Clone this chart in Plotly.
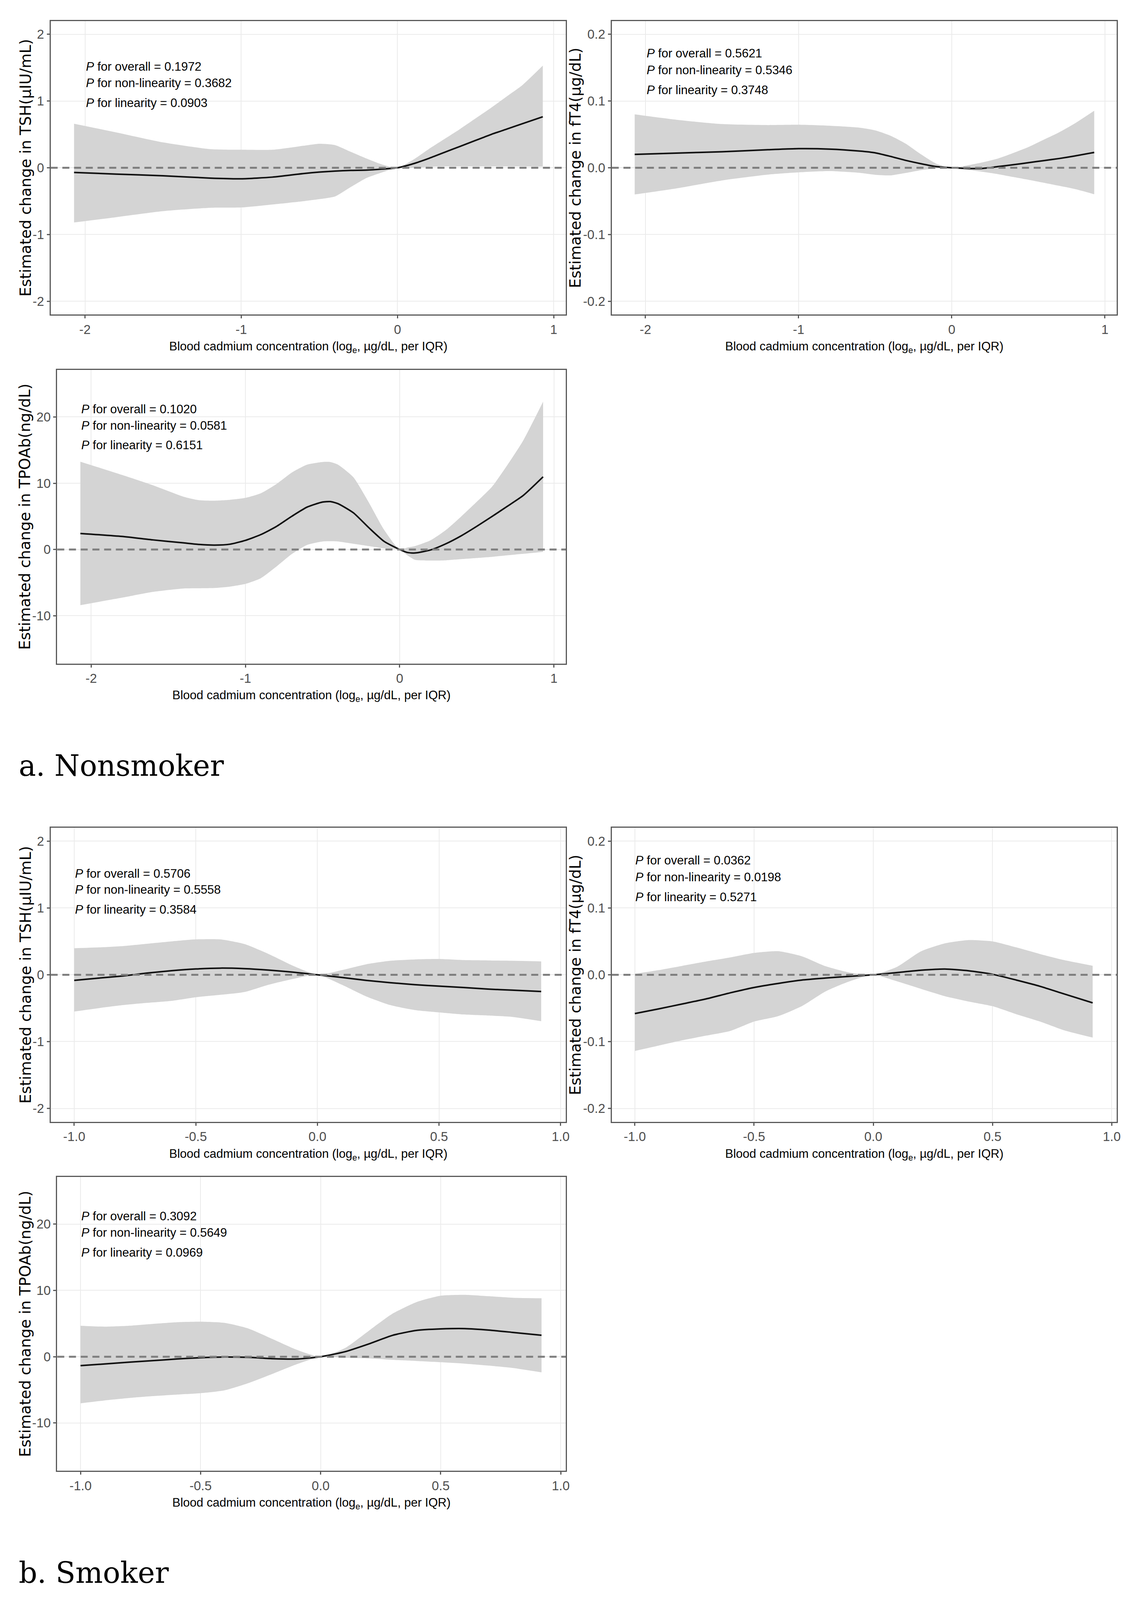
import plotly.graph_objects as go

# ---------------- data ----------------
X_NONSMOKER = [-2.07, -1.8, -1.5, -1.2, -1.0, -0.8, -0.6, -0.5, -0.4, -0.3, -0.2, -0.1,
               0.0, 0.1, 0.2, 0.3, 0.4, 0.5, 0.6, 0.7, 0.8, 0.93]
X_NONSMOKER_TPO = [-2.07, -1.8, -1.6, -1.4, -1.3, -1.2, -1.1, -1.0, -0.9, -0.8, -0.7, -0.6,
                   -0.5, -0.45, -0.4, -0.3, -0.2, -0.1, 0.0, 0.05, 0.1, 0.2, 0.3, 0.4, 0.5,
                   0.6, 0.7, 0.8, 0.93]
X_SMOKER = [-1.0, -0.9, -0.8, -0.7, -0.6, -0.5, -0.4, -0.3, -0.2, -0.1, 0.0, 0.1, 0.2,
            0.3, 0.4, 0.5, 0.6, 0.7, 0.8, 0.92]

TSH_NS_FIT = [-0.07, -0.095, -0.12, -0.155, -0.165, -0.14, -0.086, -0.065, -0.05, -0.04,
              -0.035, -0.02, 0.0, 0.06, 0.14, 0.23, 0.32, 0.41, 0.50, 0.58, 0.66, 0.765]
TSH_NS_UPPER = [0.66, 0.53, 0.38, 0.28, 0.27, 0.27, 0.33, 0.36, 0.34, 0.24, 0.14, 0.05,
                0.0, 0.12, 0.28, 0.43, 0.58, 0.74, 0.90, 1.07, 1.24, 1.53]
TSH_NS_LOWER = [-0.82, -0.74, -0.65, -0.60, -0.595, -0.55, -0.50, -0.47, -0.43, -0.29,
                -0.155, -0.07, 0.0, 0.0, 0.015, 0.02, 0.02, 0.02, 0.02, 0.02, 0.02, 0.017]

FT4_NS_FIT = [0.020, 0.022, 0.024, 0.027, 0.0286, 0.028, 0.025, 0.0224, 0.017, 0.011,
              0.006, 0.0017, 0.0, -0.001, -0.001, 0.0017, 0.0045, 0.0076, 0.0107, 0.0138,
              0.0175, 0.023]
FT4_NS_UPPER = [0.080, 0.072, 0.0655, 0.064, 0.0645, 0.063, 0.060, 0.056, 0.048, 0.036,
                0.020, 0.006, 0.0, 0.0035, 0.008, 0.0138, 0.022, 0.031, 0.042, 0.053,
                0.066, 0.0855]
FT4_NS_LOWER = [-0.040, -0.031, -0.019, -0.0103, -0.0069, -0.005, -0.0076, -0.0105,
                -0.0114, -0.0078, -0.0035, -0.001, 0.0, -0.003, -0.006, -0.0095, -0.0138,
                -0.018, -0.0224, -0.027, -0.0317, -0.0397]

TPO_NS_FIT = [2.42, 1.97, 1.45, 1.0, 0.76, 0.66, 0.8, 1.38, 2.25, 3.46, 5.0, 6.4, 7.16,
              7.23, 6.92, 5.54, 3.29, 1.21, 0.0, -0.45, -0.52, -0.07, 0.87, 2.08, 3.5, 5.0,
              6.55, 8.13, 10.97]
TPO_NS_UPPER = [13.25, 11.25, 9.69, 7.96, 7.44, 7.37, 7.5, 7.79, 8.48, 9.86, 11.6, 12.8,
                13.2, 13.2, 12.8, 10.9, 7.1, 2.94, 0.0, 0.3, 0.52, 1.38, 2.94, 5.0, 7.2,
                9.5, 12.8, 16.4, 22.3]
TPO_NS_LOWER = [-8.4, -7.27, -6.4, -5.88, -5.85, -5.81, -5.6, -5.19, -4.33, -2.6, -0.7,
                0.69, 1.21, 1.25, 1.21, 0.87, 0.52, 0.17, 0.0, -0.87, -1.56, -1.66, -1.63,
                -1.45, -1.28, -1.1, -0.87, -0.65, -0.35]

TSH_S_FIT = [-0.083, -0.05, -0.017, 0.026, 0.061, 0.087, 0.10, 0.092, 0.07, 0.039, 0.0,
             -0.039, -0.083, -0.118, -0.148, -0.17, -0.19, -0.214, -0.23, -0.25]
TSH_S_UPPER = [0.397, 0.41, 0.43, 0.465, 0.50, 0.53, 0.53, 0.46, 0.31, 0.135, 0.0, 0.07,
               0.157, 0.21, 0.23, 0.236, 0.22, 0.215, 0.21, 0.20]
TSH_S_LOWER = [-0.55, -0.50, -0.454, -0.42, -0.39, -0.336, -0.30, -0.258, -0.148, -0.061,
               0.0, -0.148, -0.323, -0.454, -0.528, -0.563, -0.594, -0.61, -0.63, -0.694]

FT4_S_FIT = [-0.058, -0.051, -0.0436, -0.036, -0.027, -0.019, -0.013, -0.0079, -0.0049,
             -0.0023, 0.0, 0.0034, 0.0068, 0.0086, 0.006, 0.0008, -0.0079, -0.0173,
             -0.0286, -0.042]
FT4_S_UPPER = [0.0015, 0.007, 0.0135, 0.020, 0.026, 0.0327, 0.0353, 0.0278, 0.0128,
               0.0034, 0.0, 0.012, 0.035, 0.047, 0.052, 0.050, 0.041, 0.031, 0.022, 0.0135]
FT4_S_LOWER = [-0.114, -0.106, -0.098, -0.091, -0.084, -0.070, -0.062, -0.047, -0.0248,
               -0.0098, 0.0, -0.0098, -0.021, -0.032, -0.040, -0.047, -0.059, -0.070,
               -0.083, -0.094]

TPO_S_FIT = [-1.35, -1.1, -0.83, -0.6, -0.35, -0.15, -0.05, -0.1, -0.3, -0.35, 0.0, 0.74,
             1.92, 3.23, 3.97, 4.19, 4.24, 4.02, 3.67, 3.23]
TPO_S_UPPER = [4.67, 4.54, 4.67, 4.95, 5.2, 5.28, 5.1, 4.24, 2.66, 1.05, 0.0, 1.27, 3.89,
               6.5, 8.25, 9.2, 9.34, 9.13, 8.9, 8.82]
TPO_S_LOWER = [-7.03, -6.6, -6.24, -5.95, -5.72, -5.5, -5.07, -3.97, -2.58, -1.14, 0.0,
               -0.17, -0.26, -0.48, -0.65, -0.83, -1.05, -1.35, -1.7, -2.36]

# tick labels
XTICKS_NS = [-2, -1, 0, 1]
XTICKTEXT_NS = ["-2", "-1", "0", "1"]
XTICKS_S = [-1.0, -0.5, 0.0, 0.5, 1.0]
XTICKTEXT_S = ["-1.0", "-0.5", "0.0", "0.5", "1.0"]
YTICKS_TSH = [-2, -1, 0, 1, 2]
YTICKTEXT_TSH = ["-2", "-1", "0", "1", "2"]
YTICKS_FT4 = [-0.2, -0.1, 0.0, 0.1, 0.2]
YTICKTEXT_FT4 = ["-0.2", "-0.1", "0.0", "0.1", "0.2"]
YTICKS_TPO = [-10, 0, 10, 20]
YTICKTEXT_TPO = ["-10", "0", "10", "20"]

Y_TITLES = ["Estimated change in TSH(\u00b5IU/mL)",
            "Estimated change in fT4(\u00b5g/dL)",
            "Estimated change in TPOAb(ng/dL)"]
X_TITLE = "Blood cadmium concentration (log<sub>e</sub>, \u00b5g/dL, per IQR)"

P_TEXT = {
    1: ["0.1972", "0.3682", "0.0903"],
    2: ["0.5621", "0.5346", "0.3748"],
    3: ["0.1020", "0.0581", "0.6151"],
    4: ["0.5706", "0.5558", "0.3584"],
    5: ["0.0362", "0.0198", "0.5271"],
    6: ["0.3092", "0.5649", "0.0969"],
}
P_LABELS = ["for overall", "for non-linearity", "for linearity"]
GROUP_LABELS = ["a. Nonsmoker", "b. Smoker"]

# ---------------- layout geometry (reference pixels -> paper fractions) ----------------
W, H = 2910, 4888
BOXES = {  # left, right, top, bottom
    1: (130, 1453, 64, 961),
    2: (1571, 2868, 64, 961),
    3: (147, 1453, 1130, 2027),
    4: (130, 1453, 2529, 3427),
    5: (1571, 2868, 2529, 3427),
    6: (147, 1453, 3596, 4493),
}
P_POS = {  # x, y of the three lines
    1: (219, [204, 253, 315]),
    2: (1659, [163, 214, 275]),
    3: (207, [1250, 1300, 1360]),
    4: (191, [2669, 2718, 2779]),
    5: (1630, [2628, 2680, 2741]),
    6: (207, [3715, 3766, 3826]),
}
YTITLE_X = {1: 66, 2: 1478, 3: 64, 4: 66, 5: 1478, 6: 64}
GROUP_POS = [(46, 2339), (46, 4805)]

panels = [
    (1, X_NONSMOKER, TSH_NS_FIT, TSH_NS_UPPER, TSH_NS_LOWER, XTICKS_NS, XTICKTEXT_NS,
     [-2.22, 1.077], YTICKS_TSH, YTICKTEXT_TSH, [-2.2, 2.2], Y_TITLES[0]),
    (2, X_NONSMOKER, FT4_NS_FIT, FT4_NS_UPPER, FT4_NS_LOWER, XTICKS_NS, XTICKTEXT_NS,
     [-2.22, 1.077], YTICKS_FT4, YTICKTEXT_FT4, [-0.22, 0.22], Y_TITLES[1]),
    (3, X_NONSMOKER_TPO, TPO_NS_FIT, TPO_NS_UPPER, TPO_NS_LOWER, XTICKS_NS, XTICKTEXT_NS,
     [-2.22, 1.077], YTICKS_TPO, YTICKTEXT_TPO, [-17.2, 27.1], Y_TITLES[2]),
    (4, X_SMOKER, TSH_S_FIT, TSH_S_UPPER, TSH_S_LOWER, XTICKS_S, XTICKTEXT_S,
     [-1.097, 1.021], YTICKS_TSH, YTICKTEXT_TSH, [-2.2, 2.2], Y_TITLES[0]),
    (5, X_SMOKER, FT4_S_FIT, FT4_S_UPPER, FT4_S_LOWER, XTICKS_S, XTICKTEXT_S,
     [-1.097, 1.021], YTICKS_FT4, YTICKTEXT_FT4, [-0.22, 0.22], Y_TITLES[1]),
    (6, X_SMOKER, TPO_S_FIT, TPO_S_UPPER, TPO_S_LOWER, XTICKS_S, XTICKTEXT_S,
     [-1.097, 1.021], YTICKS_TPO, YTICKTEXT_TPO, [-17.2, 27.1], Y_TITLES[2]),
]

SANS = "Liberation Sans, Arial, sans-serif"
RIBBON = "#D4D4D4"
BORDER = "#595959"
GRID = "#EBEBEB"

fig = go.Figure()
annotations = []
shapes = []
layout_axes = {}

for (i, xs, fit, up, lo, xt, xtt, xr, yt, ytt, yr, ytitle) in panels:
    xa = "x" if i == 1 else f"x{i}"
    ya = "y" if i == 1 else f"y{i}"
    l, r, t, b = BOXES[i]
    fig.add_trace(go.Scatter(x=xs, y=lo, mode="lines",
                             line=dict(width=0, color=RIBBON, shape="spline", smoothing=0.6),
                             xaxis=xa, yaxis=ya, showlegend=False, hoverinfo="skip"))
    fig.add_trace(go.Scatter(x=xs, y=up, mode="lines",
                             line=dict(width=0, color=RIBBON, shape="spline", smoothing=0.6),
                             fill="tonexty", fillcolor=RIBBON,
                             xaxis=xa, yaxis=ya, showlegend=False, hoverinfo="skip"))
    fig.add_trace(go.Scatter(x=xs, y=fit, mode="lines",
                             line=dict(width=4, color="#111111", shape="spline", smoothing=0.6),
                             xaxis=xa, yaxis=ya, showlegend=False))
    shapes.append(dict(type="line", xref=f"{xa} domain", yref=ya, x0=0, x1=1, y0=0, y1=0,
                       line=dict(color="#7F7F7F", width=5, dash="18px,12px"), layer="above"))

    axis_common = dict(showline=True, mirror=True, linecolor=BORDER, linewidth=3,
                       showgrid=True, gridcolor=GRID, gridwidth=2, zeroline=False,
                       ticks="outside", ticklen=7, tickwidth=3, tickcolor=BORDER,
                       tickfont=dict(family=SANS, size=33, color="#4D4D4D"),
                       tickmode="array")
    xkey = "xaxis" if i == 1 else f"xaxis{i}"
    ykey = "yaxis" if i == 1 else f"yaxis{i}"
    layout_axes[xkey] = dict(axis_common, domain=[l / W, r / W], anchor=ya, range=xr,
                             tickvals=xt, ticktext=xtt)
    layout_axes[ykey] = dict(axis_common, domain=[1 - b / H, 1 - t / H], anchor=xa, range=yr,
                             tickvals=yt, ticktext=ytt)

    annotations.append(dict(xref="paper", yref="paper", x=(l + r) / 2 / W, y=1 - (b + 100) / H,
                            text=X_TITLE, showarrow=False, xanchor="center", yanchor="middle",
                            font=dict(family=SANS, size=31, color="#000000")))
    annotations.append(dict(xref="paper", yref="paper", x=YTITLE_X[i] / W, y=1 - (t + b) / 2 / H,
                            text=ytitle, showarrow=False, textangle=-90,
                            xanchor="center", yanchor="middle",
                            font=dict(family="DejaVu Sans", size=39, color="#000000")))
    px, pys = P_POS[i]
    for lab, val, py in zip(P_LABELS, P_TEXT[i], pys):
        annotations.append(dict(xref="paper", yref="paper", x=px / W, y=1 - py / H,
                                text=f"<i>P</i> {lab} = {val}", showarrow=False,
                                xanchor="left", yanchor="middle",
                                font=dict(family=SANS, size=31, color="#000000")))

for text, (gx, gy) in zip(GROUP_LABELS, GROUP_POS):
    annotations.append(dict(xref="paper", yref="paper", x=gx / W, y=1 - gy / H, text=text,
                            showarrow=False, xanchor="left", yanchor="middle",
                            font=dict(family="DejaVu Serif", size=74, color="#000000")))

fig.update_layout(autosize=True, margin=dict(l=0, r=0, t=0, b=0),
                  paper_bgcolor="white", plot_bgcolor="white",
                  annotations=annotations, shapes=shapes, showlegend=False,
                  **layout_axes)

POST = ("document.documentElement.style.margin='0';document.body.style.margin='0';"
        "document.body.style.overflow='hidden';"
        "var gd=document.getElementById('{plot_id}');"
        "gd.style.width=window.innerWidth+'px';gd.style.height=window.innerHeight+'px';"
        "Plotly.Plots.resize(gd);")

fig.write_html("out.html", default_width="100vw", default_height="100vh",
               config={"responsive": True, "displayModeBar": False}, post_script=POST)
